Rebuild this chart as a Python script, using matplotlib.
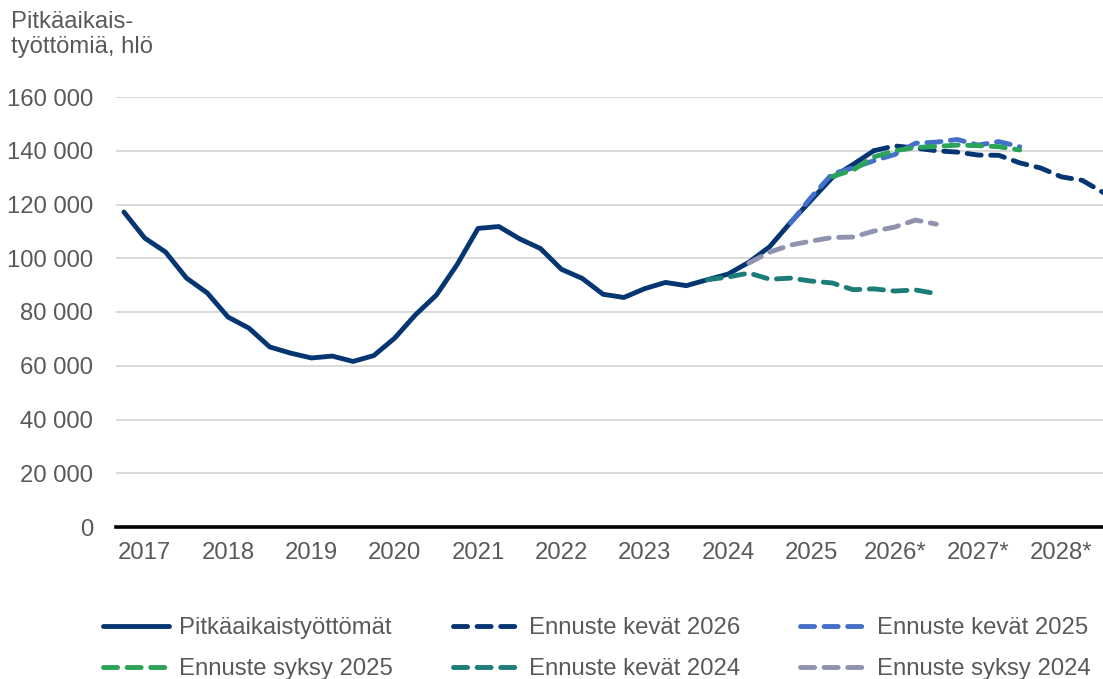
import matplotlib
matplotlib.use("Agg")
import matplotlib.pyplot as plt
import numpy as np
import pandas as pd

plt.rcParams['font.family'] = ['Liberation Sans', 'DejaVu Sans']

# vuosineljännekset, kategoria-akseli
kvartaalit = [str(p) for p in pd.period_range('2017Q1', '2028Q4', freq='Q')]
vuodet = list(range(2017, 2029))
vuosi_nimet = ['2017', '2018', '2019', '2020', '2021', '2022', '2023', '2024',
               '2025', '2026*', '2027*', '2028*']

# toteutunut, 2017Q1 ->
toteutunut = [117200, 107500, 102300, 92650, 87100, 78100, 74000, 67000,
              64700, 62900, 63600, 61600, 63800, 70300, 79000, 86300,
              97700, 111100, 111800, 107200, 103600, 95900, 92500, 86600,
              85400, 88700, 91000, 89800, 92000, 94100, 98500, 104300,
              113300, 121700, 130000, 134900, 140000]

# ennusteet: alkuneljännes + arvot
kevat2026_alku = '2026Q1'
kevat2026 = [140000, 141800, 141000, 140000, 139500, 138400, 138300, 135500,
             133600, 130300, 129000, 124500]

kevat2025_alku = '2025Q1'
kevat2025 = [113100, 122800, 131400, 133600, 136300, 138600, 142800, 143200,
             144200, 142100, 143400, 141500]

syksy2025_alku = '2025Q3'
syksy2025 = [130400, 132800, 137700, 140000, 141200, 141600, 142100, 141900,
             141500, 140300]

kevat2024_alku = '2024Q1'
kevat2024 = [92000, 93000, 94500, 92200, 92600, 91500, 90800, 88300,
             88600, 87800, 88200, 86800]

syksy2024_alku = '2024Q3'
syksy2024 = [98200, 102300, 104900, 106400, 107700, 107900, 110100, 111600,
             114200, 112700]

navy = '#053672'
sininen = '#4470C9'
vihrea = '#2BA358'
turkoosi = '#1C7C78'
harmaa = '#8F93AE'
teksti = '#595959'
LW = 3.5
DASH = (2.9, 1.95)
FS = 17.2


def sarja(alku, arvot):
    i0 = kvartaalit.index(alku)
    return np.arange(i0, i0 + len(arvot)), arvot


fig = plt.figure(figsize=(11.03, 6.79), dpi=100)
ax = fig.add_axes([116 / 1103, 1 - 527 / 679, 1 - 116 / 1103, (527 - 97) / 679])

x = np.arange(len(toteutunut))
h_tot, = ax.plot(x, toteutunut, color=navy, lw=LW, solid_capstyle='round',
                 solid_joinstyle='round', label='Pitkäaikaistyöttömät', zorder=3)


def ennuste(alku, arvot, color, label, z):
    xx, yy = sarja(alku, arvot)
    h, = ax.plot(xx, yy, color=color, lw=LW, dashes=DASH, dash_capstyle='round',
                 dash_joinstyle='round', label=label, zorder=z)
    return h


h_k26 = ennuste(kevat2026_alku, kevat2026, navy, 'Ennuste kevät 2026', 4)
h_s24 = ennuste(syksy2024_alku, syksy2024, harmaa, 'Ennuste syksy 2024', 5)
h_k24 = ennuste(kevat2024_alku, kevat2024, turkoosi, 'Ennuste kevät 2024', 5)
h_k25 = ennuste(kevat2025_alku, kevat2025, sininen, 'Ennuste kevät 2025', 6)
h_s25 = ennuste(syksy2025_alku, syksy2025, vihrea, 'Ennuste syksy 2025', 7)

ax.set_xlim(-0.38, 47.0)
ax.set_ylim(0, 160000)

yt = np.arange(0, 160001, 20000)
ax.set_yticks(yt)
ax.set_yticklabels([f'{v:,}'.replace(',', ' ') for v in yt])
ax.yaxis.grid(True, color='#D9D9D9', lw=1.4)
ax.set_axisbelow(True)

ax.set_xticks([kvartaalit.index(f'{v}Q2') for v in vuodet])
ax.set_xticklabels(vuosi_nimet)

for s in ['top', 'right', 'left']:
    ax.spines[s].set_visible(False)
ax.spines['bottom'].set_color('black')
ax.spines['bottom'].set_linewidth(2.6)
ax.spines['bottom'].set_zorder(8)

ax.tick_params(axis='y', length=0, pad=16.5, labelsize=FS, labelcolor=teksti)
ax.tick_params(axis='x', length=0, pad=10.5, labelsize=FS, labelcolor=teksti)

fig.text(11 / 1103, 1 - 11 / 679, 'Pitkäaikais-\ntyöttömiä, hlö', ha='left', va='top',
         fontsize=FS, color=teksti, linespacing=1.17)

kahvat = [h_tot, h_s25, h_k26, h_k24, h_k25, h_s24]
fig.legend(kahvat, [h.get_label() for h in kahvat], ncol=3, loc='upper left',
           bbox_to_anchor=(103 / 1103, 1 - 617 / 679), frameon=False,
           fontsize=FS, labelcolor=teksti, handlelength=2.75, handletextpad=0.45,
           columnspacing=2.5, labelspacing=0.8, borderpad=0, borderaxespad=0)

fig.savefig('out.png', dpi=100)
